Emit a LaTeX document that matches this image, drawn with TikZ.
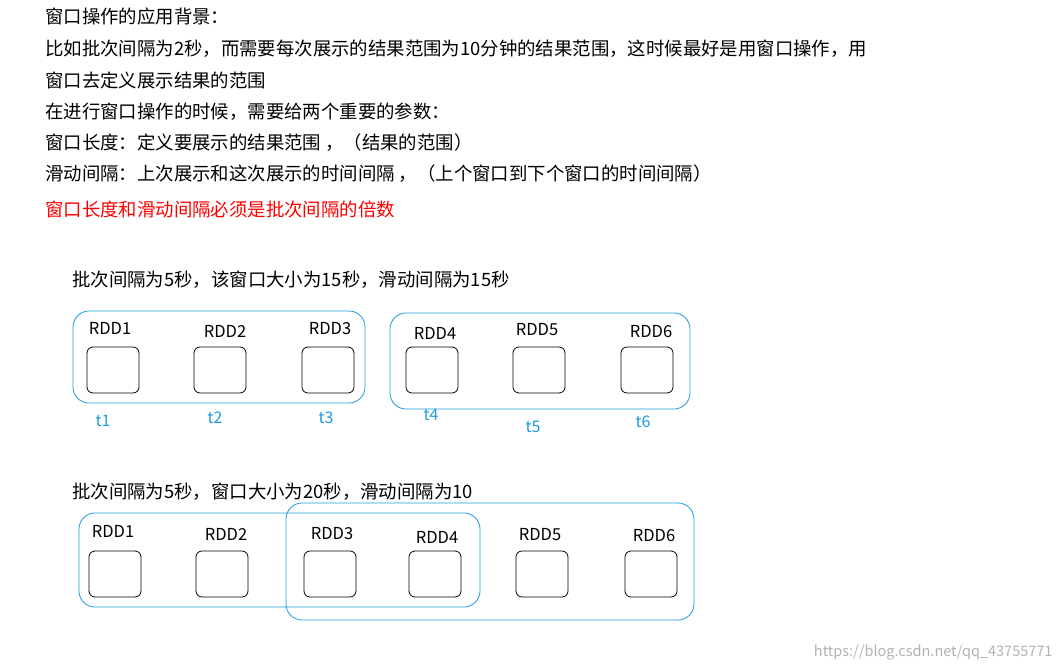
\documentclass[tikz,border=0pt]{standalone}
\usepackage{fontspec}
\setmainfont{Noto Sans CJK SC}
\definecolor{winblue}{HTML}{1E9BE0}
\tikzset{
  rdd/.style={draw,thick,rounded corners=6pt,minimum width=52pt,minimum height=46pt},
  win/.style={draw=winblue,thick,rounded corners=16pt},
  lbl/.style={font=\fontsize{16.5}{16}\selectfont},
  tl/.style={text=winblue,font=\fontsize{16}{16}\selectfont},
  txt/.style={anchor=west,inner sep=2pt,font=\fontsize{18.4}{18}\selectfont}
}
\begin{document}
\begin{tikzpicture}[x=1pt,y=-1pt]
  \useasboundingbox (0,0) rectangle (1062,671);
  % text lines
  \node[txt] (l1) at (43,17) {窗口操作的应用背景：};
  \node[txt] (l2) at (43,49) {比如批次间隔为2秒，而需要每次展示的结果范围为10分钟的结果范围，这时候最好是用窗口操作，用};
  \node[txt] (l3) at (43,80) {窗口去定义展示结果的范围};
  \node[txt] (l4) at (43,112) {在进行窗口操作的时候，需要给两个重要的参数：};
  \node[txt] (l5) at (43,143) {窗口长度：定义要展示的结果范围 ，（结果的范围）};
  \node[txt] (l6) at (43,174) {滑动间隔：上次展示和这次展示的时间间隔 ，（上个窗口到下个窗口的时间间隔）};
  \node[txt,text=red] (l7) at (43,209) {窗口长度和滑动间隔必须是批次间隔的倍数};
  % first example
  \node[txt] (h1) at (70,280) {批次间隔为5秒，该窗口大小为15秒，滑动间隔为15秒};
  \draw[win] (73,311) rectangle (365,403);
  \draw[win] (390,313) rectangle (690,409);
  \foreach \x/\n in {113/1,220/2,328/3,432/4,539/5,647/6}
    \node[rdd] (a\n) at (\x,370) {};
  \foreach \lx/\ly/\n in {110/328/1,225/331/2,330/329/3,435/333/4,537/330/5,651/332/6}
    \node[lbl] (ra\n) at (\lx,\ly) {RDD\n};
  \foreach \tx/\ty/\n in {103/421/1,215/418/2,326/418/3,431/415/4,533/427/5,643/422/6}
    \node[tl] (t\n) at (\tx,\ty) {t\n};
  % second example
  \node[txt] (h2) at (70,492) {批次间隔为5秒，窗口大小为20秒，滑动间隔为10};
  \draw[win] (79,513) rectangle (480,607);
  \draw[win] (286,503) rectangle (694,620);
  \foreach \x/\n in {115/1,222/2,330/3,435/4,542/5,651/6}
    \node[rdd] (b\n) at (\x,574) {};
  \foreach \lx/\ly/\n in {113/531/1,226/534/2,332/534/3,437/537/4,540/535/5,654/536/6}
    \node[lbl] (rb\n) at (\lx,\ly) {RDD\n};
  \node[anchor=east,text=gray!60,font=\fontsize{14.5}{14}\selectfont] (wm) at (1056,653) {https://blog.csdn.net/qq\_43755771};
\end{tikzpicture}
\end{document}
